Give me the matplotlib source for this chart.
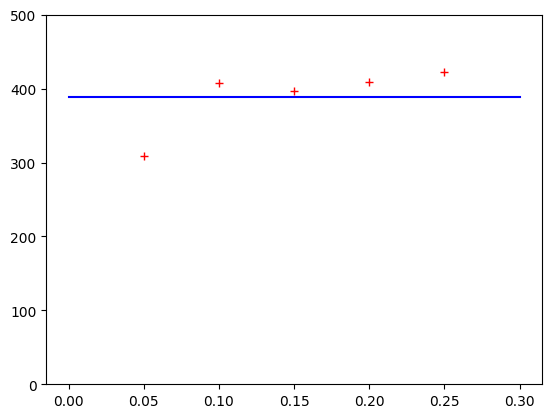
import numpy as np
import matplotlib
matplotlib.use('Agg')
import matplotlib.pyplot as plt

x_points = [0.05, 0.10, 0.15, 0.20, 0.25]
y_points = [309, 407, 397, 409.5, 423]
line_x = [0.0, 0.30]
line_level = 389

fig, ax = plt.subplots(figsize=(6.4, 4.8))
ax.plot(x_points, y_points, 'r+')
ax.plot(line_x, [line_level, line_level], 'b-')
ax.set_ylim(0, 500)

fig.savefig('out.png', dpi=100, bbox_inches='tight')
